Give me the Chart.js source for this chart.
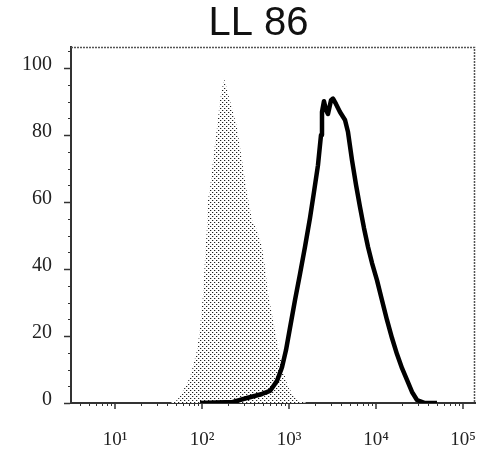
<!DOCTYPE html>
<html>
<head>
<meta charset="utf-8">
<script src="https://cdn.jsdelivr.net/npm/chart.js@4.4.1/dist/chart.umd.min.js"></script>
<style>
  html, body { margin: 0; padding: 0; background: #fff; }
  canvas { display: block; }
</style>
</head>
<body>
<canvas id="c" width="481" height="454"></canvas>
<script>
// Histogram title
const chartTitle = 'LL 86';

// Isotype control: fluorescence intensity and % of max (filled, dotted)
const controlIntensity = [43, 52, 61, 73, 88, 95, 103, 108, 114, 117, 124, 134, 149, 161, 179, 199,
  252, 288, 329, 376, 429, 490, 530, 574, 655, 748, 853, 975, 1236, 1611];
const controlCount = [0, 0.9, 3.9, 7.8, 15.9, 22.7, 32.8, 42.7, 52.5, 60.6, 64.5, 72.5, 82.4, 90.4, 97.0, 92.5,
  82.4, 72.5, 62.7, 54.6, 51.6, 46.6, 40.6, 32.8, 24.8, 16.7, 9.9, 4.8, 0.9, 0];

// LL 86 stained cells: fluorescence intensity and % of max (black outline)
const stainedIntensity = [95, 227, 329, 490, 605, 728, 831, 924, 1026, 1172, 1337, 1527, 1742, 1937, 2153,
  2333, 2395, 2524, 2661, 2806, 3040, 3206, 3467, 3855, 4404, 4767, 5300, 5893, 6551, 7283, 8097, 9002,
  10260, 11720, 13370, 15270, 17420, 19910, 22700, 25940, 29580, 36560, 50230];
const stainedCount = [0, 0.3, 1.5, 2.7, 3.6, 6.6, 10.7, 15.8, 22.4, 30.7, 38.5, 46.6, 55.2, 63.0, 71.0,
  80.0, 86.9, 90.1, 87.5, 86.3, 90.4, 90.9, 89.3, 86.9, 84.5, 80.9, 72.5, 65.1, 58.5, 52.2, 46.6, 41.8,
  36.7, 30.7, 24.8, 19.4, 14.6, 10.4, 6.9, 3.3, 0.9, 0, 0];

// Axis ticks
const yTickValues = [0, 20, 40, 60, 80, 100];
const xTickValues = [10, 100, 1000, 10000, 100000];
const xTickLabels = ['10\u00B9', '10\u00B2', '10\u00B3', '10\u2074', '10\u2075'];

const canvas = document.getElementById('c');
const ctx = canvas.getContext('2d');

// Halftone-like dot fill for the control histogram
function dotPattern() {
  const tile = document.createElement('canvas');
  tile.width = 4; tile.height = 4;
  const g = tile.getContext('2d');
  g.fillStyle = '#ffffff';
  g.fillRect(0, 0, 4, 4);
  g.fillStyle = '#222';
  g.fillRect(0, 0, 1, 1);
  g.fillRect(2, 2, 1, 1);
  g.fillStyle = '#c8c8c8';
  g.fillRect(1, 0, 1, 1);
  g.fillRect(3, 2, 1, 1);
  return ctx.createPattern(tile, 'repeat');
}

const toPoints = (xs, ys) => xs.map((v, i) => ({ x: v, y: ys[i] }));

// Top and right frame lines, x-axis tick marks and minor tick marks
const frameAndTicks = {
  id: 'frameAndTicks',
  afterDraw(chart) {
    const { ctx: c, chartArea: a, scales: { x, y } } = chart;
    c.save();
    c.strokeStyle = '#555';
    c.lineWidth = 1.5;
    c.setLineDash([2, 1]);
    c.beginPath();
    c.moveTo(a.left, a.top + 0.5);
    c.lineTo(a.right - 0.5, a.top + 0.5);
    c.lineTo(a.right - 0.5, a.bottom);
    c.stroke();
    c.setLineDash([]);

    c.strokeStyle = '#333';
    c.lineWidth = 1.5;
    c.beginPath();
    xTickValues.forEach(v => {
      const px = Math.round(x.getPixelForValue(v));
      c.moveTo(px, a.bottom);
      c.lineTo(px, a.bottom + 6);
    });
    c.stroke();

    c.lineWidth = 1;
    c.beginPath();
    for (let v = 5; v <= 105; v += 5) {
      if (v % 20 === 0) continue;
      const py = Math.round(y.getPixelForValue(v)) + 0.5;
      c.moveTo(a.left - 3, py);
      c.lineTo(a.left, py);
    }
    for (let e = 0; e <= 5; e++) {
      for (let m = 2; m <= 9; m++) {
        const v = m * Math.pow(10, e);
        if (v < x.min || v > x.max) continue;
        const px = Math.round(x.getPixelForValue(v)) + 0.5;
        c.moveTo(px, a.bottom);
        c.lineTo(px, a.bottom + 3);
      }
    }
    c.stroke();
    c.restore();
  }
};

new Chart(ctx, {
  type: 'line',
  data: {
    datasets: [
      {
        label: chartTitle,
        data: toPoints(stainedIntensity, stainedCount),
        borderColor: '#000',
        borderWidth: 4.5,
        borderJoinStyle: 'round',
        pointRadius: 0,
        tension: 0,
        fill: false
      },
      {
        label: 'Isotype',
        data: toPoints(controlIntensity, controlCount),
        borderWidth: 0,
        borderColor: 'rgba(0,0,0,0)',
        backgroundColor: dotPattern(),
        pointRadius: 0,
        tension: 0,
        fill: 'origin'
      }
    ]
  },
  options: {
    responsive: false,
    animation: false,
    devicePixelRatio: 1,
    layout: { padding: { left: 18, right: -18, top: 0, bottom: 0 } },
    plugins: {
      legend: { display: false },
      tooltip: { enabled: false },
      title: {
        display: true,
        text: chartTitle,
        color: '#111',
        font: { family: '"Liberation Sans", Arial, sans-serif', size: 40, weight: 'normal', lineHeight: 1.175 },
        padding: { top: 0, bottom: 0 }
      }
    },
    scales: {
      x: {
        type: 'logarithmic',
        min: 3.12,
        max: 137400,
        afterBuildTicks(scale) { scale.ticks = xTickValues.map(v => ({ value: v })); },
        afterFit(scale) { scale.height = 51; },
        ticks: {
          autoSkip: false,
          maxRotation: 0,
          padding: 0,
          color: '#222',
          font: { family: '"Liberation Serif", "Times New Roman", serif', size: 19 },
          callback(value) {
            const i = xTickValues.indexOf(value);
            return i >= 0 ? xTickLabels[i] : '';
          }
        },
        grid: { display: true, drawOnChartArea: false, drawTicks: true, tickLength: 26, tickColor: 'rgba(0,0,0,0)' },
        border: { display: true, color: '#333', width: 2, dash: [2, 1] }
      },
      y: {
        type: 'linear',
        min: 0,
        max: 106.3,
        afterBuildTicks(scale) { scale.ticks = yTickValues.map(v => ({ value: v })); },
        afterFit(scale) { scale.width = 53; },
        ticks: {
          autoSkip: false,
          padding: 12,
          labelOffset: -3,
          color: '#222',
          font: { family: '"Liberation Serif", "Times New Roman", serif', size: 20 }
        },
        grid: { display: true, drawOnChartArea: false, drawTicks: true, tickLength: 7, tickColor: '#333', tickWidth: 1.5 },
        border: { display: true, color: '#333', width: 2, dash: [2, 1] }
      },
      // empty right-hand gutter that keeps the plot's right edge in place
      yGutter: {
        type: 'linear',
        position: 'right',
        min: 0,
        max: 1,
        afterFit(scale) { scale.width = 24; },
        ticks: { display: false },
        grid: { display: false },
        border: { display: false }
      }
    }
  },
  plugins: [frameAndTicks]
});
</script>
</body>
</html>
